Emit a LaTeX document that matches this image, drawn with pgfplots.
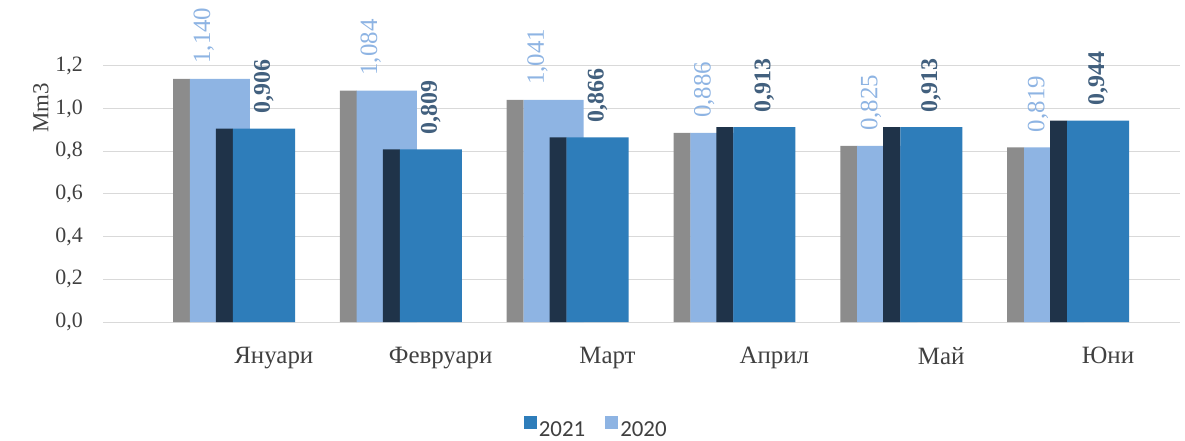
\documentclass[border=0pt]{standalone}
\usepackage{fontspec}
\setmainfont{Liberation Serif}
\newfontfamily\legendfont{Carlito}
\usepackage{pgfplots}
\usepackage{pgfplotstable}
\pgfplotsset{compat=1.18}

\definecolor{sidegray}{HTML}{8C8C8C}
\definecolor{front20}{HTML}{8EB4E3}
\definecolor{side21}{HTML}{1F3349}
\definecolor{front21}{HTML}{2E7DBA}
\definecolor{lab21}{HTML}{42607E}
\definecolor{txt}{HTML}{404040}
\definecolor{gridc}{HTML}{D9D9D9}

\tikzset{
  nnc20/.style={text=front20, xshift=-66bp, yshift=15bp, rotate=90, anchor=west, inner sep=0pt, font=\fontsize{25}{29}\selectfont},
  nnc21/.style={text=lab21, xshift=-6bp, yshift=15bp, rotate=90, anchor=west, inner sep=0pt, font=\bfseries\fontsize{24}{28}\selectfont},
}

% month index, 2020, 2021 (Mm3)
\pgfplotstableread{
x v2020 v2021
0 1.140 0.906
1 1.084 0.809
2 1.041 0.866
3 0.886 0.913
4 0.825 0.913
5 0.819 0.944
}\datatable

\begin{document}
\begin{tikzpicture}
\path[use as bounding box] (0,0) rectangle (1185bp,441bp);
\begin{axis}[
  at={(103bp,119bp)}, anchor=south west,
  scale only axis, width=1077bp, height=256bp,
  xmin=-1, xmax=5.456, ymin=0, ymax=1.2,
  clip=false,
  axis line style={draw=none},
  major tick length=0pt,
  ymajorgrids, grid style={gridc, line width=1bp},
  ytick={0,0.2,...,1.2},
  /pgf/number format/assume math mode=true,
  yticklabel={\pgfmathprintnumber[fixed, fixed zerofill, precision=1, use comma]{\tick}},
  yticklabel style={inner sep=0pt, xshift=-20bp, text=txt, font=\fontsize{22}{26}\selectfont},
  xtick={0,...,5},
  xticklabels={Януари, Февруари, Март, Април, Май, Юни},
  xticklabel style={inner sep=0pt, xshift=4bp, yshift=-25bp, text=txt, font=\fontsize{25}{29}\selectfont},
  ylabel={Mm3},
  ylabel style={at={(axis description cs:-0.0576,0.836)}, anchor=center, text=txt, font=\fontsize{23}{27}\selectfont},
  legend style={at={(axis description cs:0.458,-0.414)}, anchor=center, draw=none,
    legend columns=2, font=\legendfont\fontsize{23}{27}\selectfont, text=txt,
    /tikz/every even column/.append style={column sep=18bp}},
  legend image code/.code={\fill[#1] (-5bp,0bp) rectangle (8bp,13bp);},
]
\addlegendimage{fill=front21, draw=none}
\addlegendentry{2021}
\addlegendimage{fill=front20, draw=none}
\addlegendentry{2020}

% 2020: side face and front face
\addplot[forget plot, ybar, bar width=0.102, bar shift=-0.529, fill=sidegray, draw=none]
  table[x=x, y=v2020] {\datatable};
\addplot[forget plot, ybar, bar width=0.360, bar shift=-0.299, fill=front20, draw=none,
  nodes near coords={\pgfmathprintnumber[fixed, fixed zerofill, precision=3, use comma]{\pgfplotspointmeta}},
  every node near coord/.style={nnc20}]
  table[x=x, y=v2020] {\datatable};

% 2021: side face and front face
\addplot[forget plot, ybar, bar width=0.102, bar shift=-0.272, fill=side21, draw=none]
  table[x=x, y=v2021] {\datatable};
\addplot[forget plot, ybar, bar width=0.372, bar shift=-0.035, fill=front21, draw=none,
  nodes near coords={\pgfmathprintnumber[fixed, fixed zerofill, precision=3, use comma]{\pgfplotspointmeta}},
  every node near coord/.style={nnc21}]
  table[x=x, y=v2021] {\datatable};
\end{axis}
\end{tikzpicture}
\end{document}
